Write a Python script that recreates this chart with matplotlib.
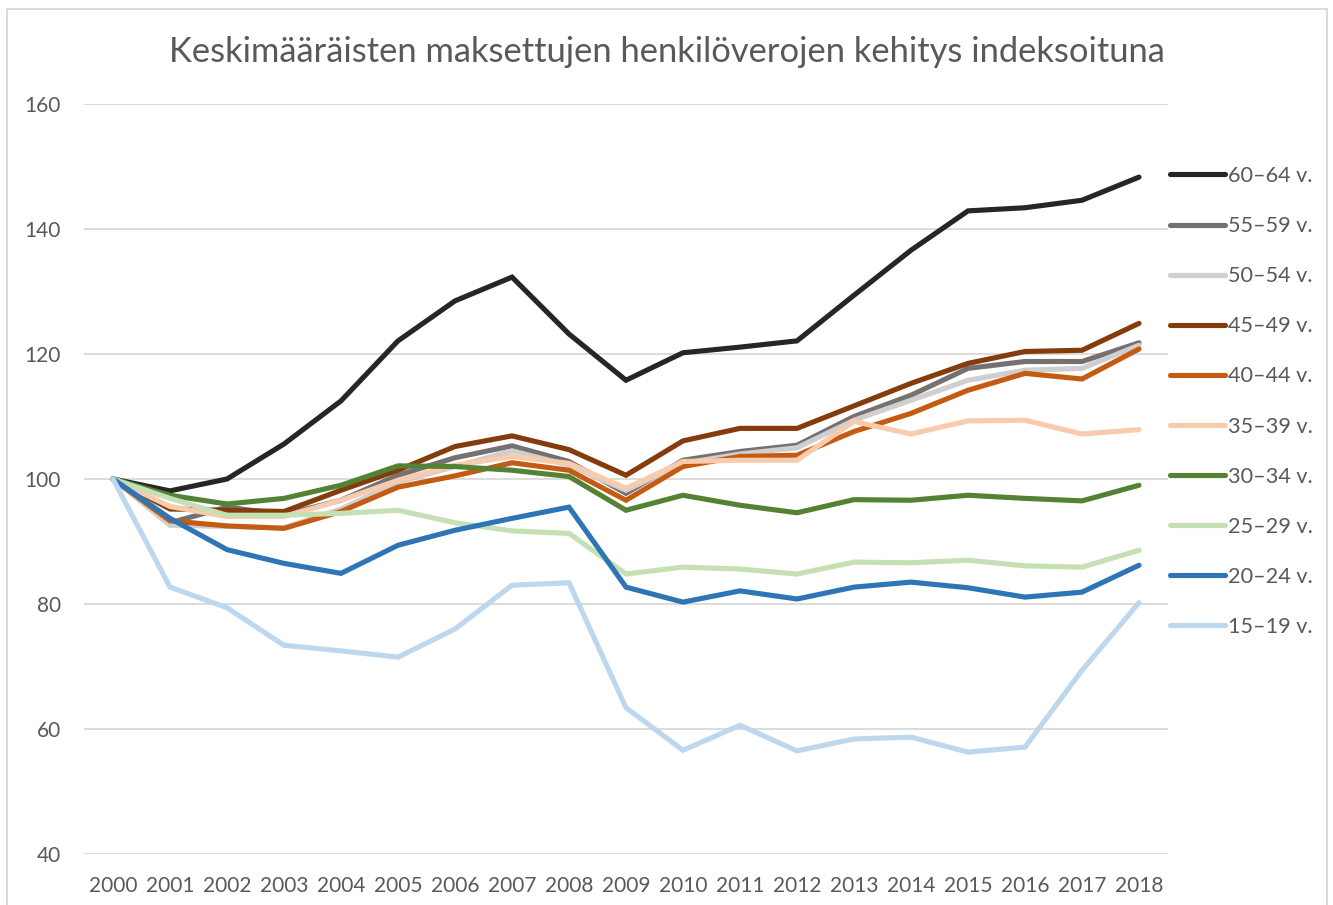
import matplotlib.pyplot as plt
from matplotlib.patches import Rectangle

years = [str(y) for y in range(2000, 2019)]

groups = ['60–64 v.', '55–59 v.', '50–54 v.', '45–49 v.', '40–44 v.',
          '35–39 v.', '30–34 v.', '25–29 v.', '20–24 v.', '15–19 v.']

v60_64 = [100, 98.1, 100.0, 105.6, 112.5, 122.1, 128.5, 132.3, 123.2, 115.8,
          120.2, 121.1, 122.1, 129.4, 136.6, 142.9, 143.4, 144.6, 148.3]
v55_59 = [100, 93.0, 95.5, 94.3, 96.6, 100.6, 103.4, 105.3, 102.8, 97.7,
          103.0, 104.4, 105.4, 110.0, 113.4, 117.7, 118.8, 118.8, 121.8]
v50_54 = [100, 92.6, 92.4, 92.2, 95.2, 99.5, 102.0, 104.5, 102.2, 98.2,
          102.5, 104.0, 105.0, 109.4, 112.6, 115.8, 117.4, 117.7, 121.4]
v45_49 = [100, 95.2, 95.0, 94.8, 98.2, 101.4, 105.2, 106.9, 104.7, 100.6,
          106.1, 108.1, 108.1, 111.7, 115.3, 118.5, 120.4, 120.6, 124.9]
v40_44 = [100, 93.3, 92.5, 92.1, 94.8, 98.7, 100.5, 102.6, 101.4, 96.6,
          102.0, 103.6, 103.8, 107.6, 110.5, 114.2, 116.9, 116.0, 120.8]
v35_39 = [100, 95.6, 94.0, 94.0, 96.6, 99.8, 102.2, 103.6, 102.5, 98.5,
          102.8, 103.0, 103.0, 109.2, 107.2, 109.3, 109.4, 107.2, 107.9]
v30_34 = [100, 97.4, 96.0, 96.9, 99.0, 102.1, 102.0, 101.4, 100.4, 95.0,
          97.4, 95.8, 94.6, 96.7, 96.6, 97.4, 96.9, 96.5, 99.0]
v25_29 = [100, 96.9, 94.2, 94.2, 94.5, 95.0, 93.0, 91.7, 91.3, 84.8,
          85.9, 85.6, 84.8, 86.7, 86.6, 87.0, 86.1, 85.9, 88.6]
v20_24 = [100, 93.7, 88.7, 86.5, 84.9, 89.4, 91.8, 93.7, 95.5, 82.7,
          80.3, 82.1, 80.8, 82.7, 83.5, 82.6, 81.1, 81.9, 86.2]
v15_19 = [100, 82.7, 79.4, 73.4, 72.5, 71.5, 76.0, 83.0, 83.4, 63.4,
          56.6, 60.6, 56.5, 58.4, 58.7, 56.3, 57.1, 69.4, 80.2]

series = [v60_64, v55_59, v50_54, v45_49, v40_44,
          v35_39, v30_34, v25_29, v20_24, v15_19]
colors = ['#262626', '#767171', '#d0cece', '#843c0c', '#c55a11',
          '#f8cbad', '#548235', '#c5e0b4', '#2e75b6', '#bdd7ee']

plt.rcParams['font.family'] = ['Lato', 'DejaVu Sans']
text_col = '#595959'

fig = plt.figure(figsize=(13.33, 9.05), dpi=100)
ax = fig.add_axes([84.5 / 1333, 1 - 854 / 905, (1167.5 - 84.5) / 1333, 750 / 905])

x = list(range(len(years)))
for vals, col, lab in zip(series, colors, groups):
    ax.plot(x, vals, color=col, lw=3.7, label=lab, solid_capstyle='round',
            solid_joinstyle='miter')

ax.set_xlim(-0.5, len(years) - 0.5)
ax.set_ylim(40, 160)
ax.set_yticks(range(40, 161, 20))
ax.set_xticks(x)
ax.set_xticklabels(years)
ax.grid(axis='y', color='#d9d9d9', lw=1.3)
ax.set_axisbelow(True)
for s in ax.spines.values():
    s.set_visible(False)
ax.tick_params(length=0, labelsize=15, labelcolor=text_col)
ax.tick_params(axis='y', pad=17)
ax.tick_params(axis='x', pad=16)

fig.text(667 / 1333, 1 - 52 / 905, 'Keskimääräisten maksettujen henkilöverojen kehitys indeksoituna',
         ha='center', va='center', fontsize=24.8, color=text_col)

ax.legend(loc='upper left', bbox_to_anchor=(1170 / 1333, 1 - 166 / 905),
          bbox_transform=fig.transFigure, frameon=False, fontsize=15.6,
          labelcolor=text_col, handlelength=2.55, handletextpad=0.14,
          labelspacing=1.39, borderaxespad=0, borderpad=0)

# outer chart frame
fig.patches.append(Rectangle((7 / 1333, -0.01), 1320 / 1333, 1 - 9 / 905 + 0.01,
                             transform=fig.transFigure, fill=False,
                             edgecolor='#d9d9d9', lw=1.3))

fig.savefig('out.png', dpi=100)
